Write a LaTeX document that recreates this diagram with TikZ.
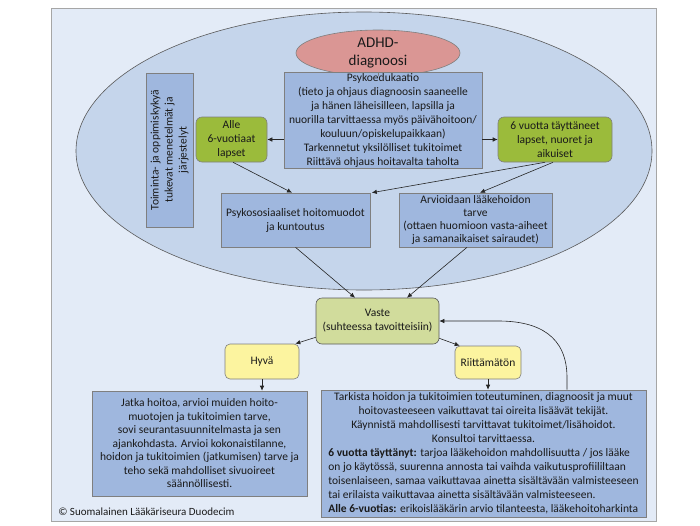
\documentclass[tikz,border=0pt]{standalone}
\usepackage{fontspec}
\setmainfont{Carlito}
\usetikzlibrary{arrows.meta,shapes.geometric,calc}
\definecolor{framefill}{HTML}{E3EBF7}
\definecolor{framedraw}{HTML}{A6A6A6}
\definecolor{ellfill}{HTML}{C5D5EB}
\definecolor{ellline}{HTML}{595959}
\definecolor{adhdfill}{HTML}{DA9694}
\definecolor{bluebox}{HTML}{9FB7DE}
\definecolor{boxline}{HTML}{7F7F7F}
\definecolor{greenbox}{HTML}{9BBB3B}
\definecolor{vastefill}{HTML}{D1DC9C}
\definecolor{yellowbox}{HTML}{FCF49F}
\definecolor{txt}{HTML}{1A1A1A}
\definecolor{arrline}{HTML}{262626}
\tikzset{
  base/.style={text=txt, font=\fontsize{11.5}{14}\selectfont, align=center, inner sep=0pt, line width=0.6pt},
  bluerect/.style={base, draw=boxline, fill=bluebox, rectangle},
  greenrect/.style={base, draw=boxline, fill=greenbox, rectangle, rounded corners=6pt},
  vasterect/.style={base, draw=ellline, fill=vastefill, rectangle, rounded corners=6pt},
  yellowrect/.style={base, draw=boxline, fill=yellowbox, rectangle, rounded corners=5pt},
  arr/.style={draw=arrline, line width=0.6pt, -{Latex[length=5pt,width=4.5pt]}},
  plain/.style={draw=boxline, line width=0.7pt}
}
\begin{document}
\begin{tikzpicture}[x=1pt,y=-1pt]
\useasboundingbox (0,0) rectangle (700,525);
% frame
\draw[fill=framefill, draw=framedraw, line width=0.7pt] (51,8) rectangle (656,521);
% big ellipse
\draw[fill=ellfill, draw=ellline, line width=0.6pt] (364,151) ellipse [x radius=288pt, y radius=139pt];
% nodes
\node[base, ellipse, draw=boxline, fill=adhdfill, minimum width=164pt, minimum height=46pt,
  font=\fontsize{15}{18}\selectfont] (adhd) at (378,53) {ADHD-\\diagnoosi};
\node[bluerect, minimum width=198pt, minimum height=96pt] (psyko) at (383,120)
  {Psykoedukaatio\\(tieto ja ohjaus diagnoosin saaneelle\\ja hänen läheisilleen, lapsilla ja\\nuorilla tarvittaessa myös päivähoitoon/\\kouluun/opiskelupaikkaan)\\Tarkennetut yksilölliset tukitoimet\\Riittävä ohjaus hoitavalta taholta};
\node[greenrect, minimum width=71pt, minimum height=45pt] (alle) at (231.5,139.5) {Alle\\6-vuotiaat\\lapset};
\node[greenrect, minimum width=114pt, minimum height=45pt] (kuusi) at (555,139.5) {6 vuotta täyttäneet\\lapset, nuoret ja\\aikuiset};
\node[bluerect, minimum width=154pt, minimum height=47pt, rotate=90] (toim) at (169.5,150)
  {Toiminta- ja oppimiskykyä\\tukevat menetelmät ja\\järjestelyt};
\node[bluerect, minimum width=149pt, minimum height=54pt] (psykos) at (295.5,220) {Psykososiaaliset hoitomuodot\\ja kuntoutus};
\node[bluerect, minimum width=153pt, minimum height=54pt, font=\fontsize{11.5}{13.3}\selectfont] (arvio) at (475.5,220)
  {Arvioidaan lääkehoidon\\tarve\\(ottaen huomioon vasta-aiheet\\ja samanaikaiset sairaudet)};
\node[vasterect, minimum width=123pt, minimum height=46pt] (vaste) at (377.5,321) {Vaste\\(suhteessa tavoitteisiin)};
\node[yellowrect, minimum width=74pt, minimum height=35pt] (hyva) at (262,361.5) {Hyvä};
\node[yellowrect, minimum width=66pt, minimum height=33pt] (riitt) at (488,362.5) {Riittämätön};
\node[bluerect, minimum width=215pt, minimum height=105pt, font=\fontsize{11.5}{13.5}\selectfont] (jatka) at (199.5,443.5)
  {Jatka hoitoa, arvioi muiden hoito-\\muotojen ja tukitoimien tarve,\\sovi seurantasuunnitelmasta ja sen\\ajankohdasta. Arvioi kokonaistilanne,\\hoidon ja tukitoimien (jatkumisen) tarve ja\\teho sekä mahdolliset sivuoireet\\säännöllisesti.};
\node[bluerect, minimum width=325pt, minimum height=127pt] (tark) at (483.5,453.5)
  {\begin{tabular}{@{}l@{}}
  \multicolumn{1}{@{}c@{}}{Tarkista hoidon ja tukitoimien toteutuminen, diagnoosit ja muut}\\
  \multicolumn{1}{@{}c@{}}{hoitovasteeseen vaikuttavat tai oireita lisäävät tekijät.}\\
  \multicolumn{1}{@{}c@{}}{Käynnistä mahdollisesti tarvittavat tukitoimet/lisähoidot.}\\
  \multicolumn{1}{@{}c@{}}{Konsultoi tarvittaessa.}\\
  \textbf{6 vuotta täyttänyt:} tarjoa lääkehoidon mahdollisuutta / jos lääke\\
  on jo käytössä, suurenna annosta tai vaihda vaikutusprofiililtaan\\
  toisenlaiseen, samaa vaikuttavaa ainetta sisältävään valmisteeseen\\
  tai erilaista vaikuttavaa ainetta sisältävään valmisteeseen.\\
  \textbf{Alle 6-vuotias:} erikoislääkärin arvio tilanteesta, lääkehoitoharkinta
  \end{tabular}};
\node[base, anchor=west, font=\fontsize{11}{13}\selectfont] (copy) at (58,512) {© Suomalainen Lääkäriseura Duodecim};
% connectors
\draw[plain] (adhd.south) -- (adhd.south |- psyko.north);
\draw[arr] (psyko.west |- alle) -- (alle.east);
\draw[arr] (psyko.east |- kuusi) -- (kuusi.west);
\draw[arr] ([xshift=1.5pt]alle.south) -- ([xshift=-3.5pt]psykos.north);
\draw[arr] ([xshift=-10pt]kuusi.south) -- ([xshift=1.5pt]psykos.north east);
\draw[arr] ([xshift=-2pt]kuusi.south) -- ([xshift=4.5pt]arvio.north);
\draw[arr] (psykos.south) -- ([xshift=-22.5pt]vaste.north);
\draw[arr] ([xshift=-8.5pt]arvio.south) -- ([xshift=29.5pt]vaste.north);
\draw[arr] ([yshift=7pt]vaste.south west) -- ([xshift=-4pt]hyva.north east);
\draw[arr] ([yshift=6pt]vaste.south east) -- ([xshift=5pt]riitt.north west);
\draw[arr] (hyva.south) -- (hyva.south |- jatka.north);
\draw[arr] (riitt.south) -- (riitt.south |- tark.north);
\draw[arr] ([xshift=83.5pt]tark.north) -- ++(0,-12) .. controls +(0,-42) and +(40,0) .. ($(vaste.east)+(59,0)$) -- (vaste.east);
\end{tikzpicture}
\end{document}
